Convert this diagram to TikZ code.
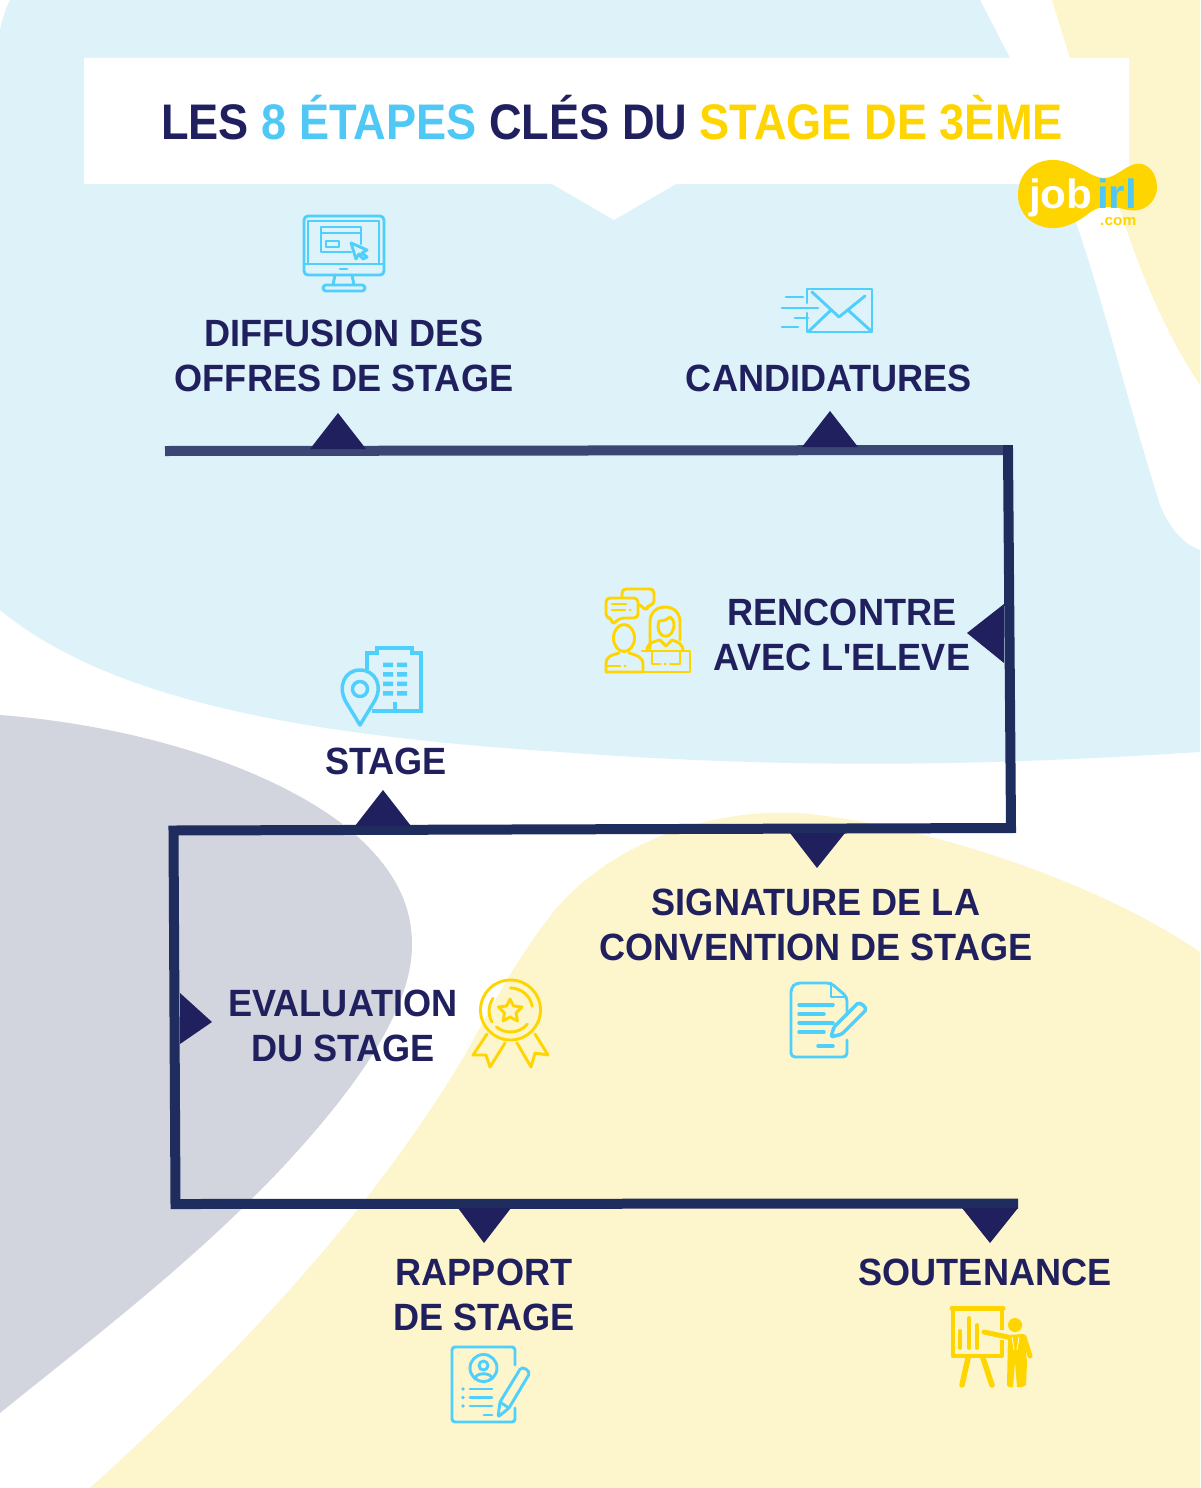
\documentclass[tikz,border=0pt]{standalone}
\usepackage{fontspec}
\setmainfont{Liberation Sans}[FakeStretch=0.95]
\newfontfamily\titlefont{Liberation Sans}[FakeStretch=0.903]
\newfontfamily\logofont{Liberation Sans}[FakeStretch=1.03]
\definecolor{bgblue}{HTML}{DEF2FA}
\definecolor{bgyellow}{HTML}{FDF5CC}
\definecolor{bggray}{HTML}{D2D4DE}
\definecolor{navy}{HTML}{21205E}
\definecolor{routecol}{HTML}{1F2D5E}
\definecolor{routelight}{HTML}{3B4675}
\definecolor{iconblue}{HTML}{4FCFFC}
\definecolor{iconyellow}{HTML}{FFD500}
\definecolor{titleblue}{HTML}{4FC8F5}
\tikzset{
  steplabel/.style={text=navy,font=\fontsize{38}{45}\selectfont\bfseries,align=center,inner sep=0pt},
  route/.style={draw=routecol,line width=10pt,line join=miter},
  marker/.style={fill=navy,draw=none},
  iconb/.style={draw=iconblue,line width=2.9pt,line cap=round,line join=round},
  icony/.style={draw=iconyellow,line width=2.9pt,line cap=round,line join=round},
}
\begin{document}
\begin{tikzpicture}[x=1pt,y=-1pt]
\useasboundingbox (0,0) rectangle (1200,1488);
\clip (0,0) rectangle (1200,1488);
% background shapes
\fill[white] (0,0) rectangle (1200,1488);
\fill[bgblue] (10,0) -- (980,0) -- (1010,58) -- (1075,220)
  .. controls (1100,290) and (1130,410) .. (1160,505)
  .. controls (1170,530) and (1185,545) .. (1200,550)
  -- (1200,752) .. controls (1000,765) and (800,770) .. (560,752)
  .. controls (300,735) and (110,700) .. (0,610) -- (0,30) .. controls (2,20) and (6,8) .. (10,0) -- cycle;
\fill[bgyellow] (1052,0) -- (1070,58) -- (1125,225)
  .. controls (1145,285) and (1170,340) .. (1200,385) -- (1200,0) -- cycle;
\fill[bggray] (0,715) .. controls (130,725) and (270,765) .. (350,830)
  .. controls (395,868) and (412,905) .. (412,945)
  .. controls (412,1010) and (355,1090) .. (280,1170)
  .. controls (190,1265) and (90,1340) .. (0,1413) -- cycle;
\fill[bgyellow] (90,1488) .. controls (220,1370) and (360,1230) .. (465,1055)
  .. controls (490,1010) and (515,960) .. (555,910)
  .. controls (610,845) and (710,805) .. (810,814)
  .. controls (950,830) and (1110,890) .. (1200,952) -- (1200,1488) -- cycle;
% title
\fill[white] (84,58) -- (1129,58) -- (1129,184) -- (676,184) -- (614,220) -- (552,184) -- (84,184) -- cycle;
\node[inner sep=0pt,font=\titlefont\fontsize{50}{50}\selectfont\bfseries,text=navy] (title) at (612,118)
  {LES \textcolor{titleblue}{8 ÉTAPES} CLÉS DU \textcolor{iconyellow}{STAGE DE 3ÈME}};
% logo
\fill[iconyellow] (1018,195) .. controls (1018,172) and (1035,159) .. (1055,160)
  .. controls (1075,161) and (1090,178) .. (1104,178)
  .. controls (1118,178) and (1128,161) .. (1142,164)
  .. controls (1153,167) and (1157,178) .. (1157,188)
  .. controls (1156,204) and (1142,213) .. (1128,210)
  .. controls (1112,206) and (1100,204) .. (1088,214)
  .. controls (1075,224) and (1062,229) .. (1050,228)
  .. controls (1030,226) and (1018,212) .. (1018,195) -- cycle;
\node[inner sep=0pt,anchor=base west,font=\logofont\fontsize{41}{41}\selectfont\bfseries,text=white] (logojob) at (1029,208) {job};
\node[inner sep=0pt,anchor=base west,font=\logofont\fontsize{41}{41}\selectfont\bfseries,text=titleblue] (logoirl) at (1097,208) {irl};
\node[inner sep=0pt,anchor=base west,font=\logofont\fontsize{15}{15}\selectfont\bfseries,text=iconyellow] (logocom) at (1100,225) {.com};
% labels
\node[steplabel] (s1) at (344,356) {DIFFUSION DES\\OFFRES DE STAGE};
\node[steplabel] (s2) at (829,378) {CANDIDATURES};
\node[steplabel] (s3) at (842,635) {RENCONTRE\\AVEC L{\titlefont'}ELEVE};
\node[steplabel] (s4) at (386,761) {STAGE};
\node[steplabel] (s5) at (816,925) {SIGNATURE DE LA\\CONVENTION DE STAGE};
\node[steplabel] (s6) at (343,1026) {EVALUATION\\DU STAGE};
\node[steplabel] (s7) at (484,1295) {RAPPORT\\DE STAGE};
\node[steplabel] (s8) at (985,1272) {SOUTENANCE};
% route
\coordinate (r0) at (165,451);
\coordinate (r1a) at (1003,450);
\coordinate (r1) at (1008,450);
\coordinate (r2) at (1011,828);
\coordinate (r3) at (173.5,830.5);
\coordinate (r4) at (175.5,1204);
\coordinate (r5) at (1018,1203.5);
\draw[draw=routelight,line width=10pt] (r0) -- (r1a);
\draw[route] (r1a) -- (r1) -- (r2) -- (r3) -- (r4) -- (r5);
% markers
\fill[marker] (338,413) -- (366,449) -- (310,449) -- cycle;
\fill[marker] (830,411) -- (858,447) -- (802,447) -- cycle;
\fill[marker] (967,633) -- (1004,604) -- (1004,663) -- cycle;
\fill[marker] (383,790) -- (411,826) -- (355,826) -- cycle;
\fill[marker] (817,868) -- (845,833) -- (790,833) -- cycle;
\fill[marker] (212,1022) -- (180,993) -- (180,1044) -- cycle;
\fill[marker] (484,1243) -- (511,1208) -- (458,1208) -- cycle;
\fill[marker] (990,1243) -- (1018,1208) -- (962,1208) -- cycle;
% icon: monitor
\draw[iconb,rounded corners=4pt] (304,216) rectangle (384,275);
\draw[iconb] (308,264) -- (308,221) -- (379,221) -- (379,264);
\draw[iconb] (304,264) -- (384,264);
\draw[iconb] (340,269) -- (347,269);
\draw[iconb] (335,275) -- (333,285) (352,275) -- (354,285);
\draw[iconb,rounded corners=3pt] (323,285) rectangle (365,291);
\draw[iconb] (351,252) -- (321,252) -- (321,227) -- (361,227) -- (361,244);
\draw[iconb] (321,233) -- (361,233);
\draw[iconb] (326,241) rectangle (339,247);
\draw[iconb,fill=bgblue] (351,243) -- (367,250) -- (362,253) -- (367,257) -- (363,259) -- (359,254) -- (356,259) -- cycle;
% icon: envelope
\draw[iconb] (807,303) -- (807,289) -- (872,289) -- (872,332) -- (807,332) -- (807,313);
\draw[iconb] (812,292) -- (839,317) -- (865,296);
\draw[iconb] (830,311) -- (809,331) (849,311) -- (870,330);
\draw[iconb] (786,297) -- (803,297) (782,308) -- (818,308) (795,318) -- (808,318) (782,327) -- (798,327);
% icon: meeting
\draw[icony,rounded corners=4pt] (622,597) -- (622,589) -- (654,589) -- (654,605) -- (647,605) -- (647,611) -- (640,605);
\draw[icony,rounded corners=4pt] (606,598) -- (638,598) -- (638,618) -- (620,618) -- (612,625) -- (612,618) -- (606,618) -- cycle;
\draw[icony] (612,604) -- (626,604) (612,610) -- (625,610);
\fill[iconyellow] (630,610) circle[radius=1.5];
\draw[icony] (624,638) ellipse[x radius=10.5,y radius=13.5];
\draw[icony] (606,672) -- (606,664) .. controls (606,656) and (612,655) .. (619,653);
\draw[icony] (629,653) .. controls (636,655) and (643,657) .. (643,664) -- (643,672) -- (606,672);
\draw[icony] (606,666) -- (620,666);
\fill[iconyellow] (625,666) circle[radius=1.5];
\draw[icony] (650,649) -- (650,622) .. controls (650,612) and (657,607) .. (665,607) .. controls (673,607) and (680,612) .. (680,622) -- (680,640);
\draw[icony] (659,621) .. controls (666,621) and (668,618) .. (670,617) .. controls (673,620) and (674,621) .. (674,624) .. controls (674,640) and (658,640) .. (658,626) -- cycle;
\draw[icony] (647,651) .. controls (647,643) and (652,642) .. (660,640) -- (666,646) -- (672,640) .. controls (678,642) and (683,644) .. (683,651);
\draw[icony] (642,651) -- (690,651) -- (690,672) -- (643,672);
\draw[icony] (652,652) -- (652,664) -- (660,664) (670,664) -- (680,664) -- (680,652);
\fill[iconyellow] (665,664) circle[radius=1.5];
% icon: building and pin
\draw[iconb,line join=miter,line cap=butt,line width=3.5pt] (367,670) -- (367,653) -- (377,653) -- (377,648) -- (412,648) -- (412,653) -- (421,653) -- (421,711) -- (372,711);
\fill[iconblue] (383,662.5) rectangle (393,667) (397,662.5) rectangle (407,667)
  (383,672) rectangle (393,676.5) (397,672) rectangle (407,676.5)
  (383,681.5) rectangle (393,686) (397,681.5) rectangle (407,686)
  (383,691) rectangle (393,695.5) (397,691) rectangle (407,695.5);
\draw[iconb,line cap=butt,line width=3.5pt] (395,702) -- (395,711);
\draw[iconb,fill=bgblue,line width=3.5pt] (360,725) -- (346,702) .. controls (337,686) and (345,670) .. (360,670) .. controls (375,670) and (384,686) .. (374,702) -- cycle;
\draw[iconb,line width=3.5pt] (360,689) circle[radius=7.5];
% icon: award
\draw[icony] (487,1034) -- (473,1055) -- (486,1055) -- (490,1067) -- (505,1043);
\draw[icony] (517,1043) -- (531,1067) -- (535,1053) -- (548,1055) -- (535,1034);
\draw[icony,fill=none] (510.5,1010) circle[radius=30];
\draw[icony] (510.5,988) arc[start angle=-90,end angle=-10,radius=22];
\draw[icony] (492,1022) arc[start angle=150,end angle=215,radius=22];
\draw[icony] (510.5,1032) arc[start angle=90,end angle=130,radius=22] ;
\draw[icony] (510.5,1032) arc[start angle=90,end angle=40,radius=22];
\draw[icony] (510,999) -- (513.5,1006) -- (522,1007) -- (516,1013) -- (517.5,1021) -- (510,1017) -- (503,1021) -- (504.5,1013) -- (498.5,1007) -- (506.5,1006) -- cycle;
% icon: signed document
\draw[iconb,rounded corners=4pt] (847,1015) -- (847,997) -- (831,983) -- (796,983) -- (791,988) -- (791,1057) -- (847,1057) -- (847,1040);
\draw[iconb] (831,983) -- (831,997) -- (846,997);
\draw[iconb,line width=3.5pt] (799,1005) -- (833,1005) (799,1014) -- (824,1014) (799,1023) -- (833,1023) (799,1032) -- (824,1032) (818,1046) -- (833,1046);
\draw[iconb,line width=3.5pt,rounded corners=1.5pt] (831,1037) -- (834,1027) -- (856,1005) .. controls (860,1001) and (868,1008) .. (864,1012) -- (842,1034) -- cycle;
% icon: report
\draw[iconb,rounded corners=3pt] (515,1365) -- (515,1347) -- (452,1347) -- (452,1422) -- (515,1422) -- (515,1408);
\draw[iconb] (483.5,1368) circle[radius=13.5];
\draw[iconb] (483.5,1365.5) circle[radius=4.5];
\draw[iconb] (475,1379) .. controls (475,1372) and (492,1372) .. (492,1379);
\fill[iconblue] (463,1389) circle[radius=1.8] (463,1397.5) circle[radius=1.8] (463,1406) circle[radius=1.8];
\draw[iconb] (470,1389) -- (492,1389) (470,1397.5) -- (492,1397.5) (470,1406) -- (492,1406) (484,1415) -- (492,1415);
\draw[iconb,rounded corners=1.5pt] (498,1417) -- (500,1402) -- (519,1371) .. controls (522,1365) and (531,1371) .. (528,1376) -- (509,1408) -- cycle;
\draw[iconb] (500,1402) -- (509,1408);
% icon: presentation
\draw[icony,line width=5pt] (952,1308) -- (1003,1308);
\draw[icony,line width=4pt,line cap=butt] (953,1308) -- (953,1356) -- (1002,1356) -- (1002,1340) (1002,1330) -- (1002,1308);
\draw[icony,line width=3.8pt] (960,1331) -- (960,1348) (969,1318) -- (969,1348) (977,1325) -- (977,1348);
\draw[icony,line width=5.5pt] (968,1358) -- (962,1385) (983,1358) -- (992,1385);
\fill[iconyellow] (1015,1325) circle[radius=7];
\draw[icony,line width=5pt] (984,1332) -- (1012,1338);
\fill[iconyellow] (1008,1335) -- (1024,1334) -- (1027,1362) -- (1026,1385) -- (1022,1387) -- (1017,1387) -- (1015,1362) -- (1013,1387) -- (1009,1387) -- (1007,1385) -- cycle;
\draw[icony,line width=5pt] (1024,1337) -- (1030,1356);
\draw[draw=bgyellow,line width=1pt] (1012,1337) -- (1014,1350) (1019,1337) -- (1017,1350);
\end{tikzpicture}
\end{document}
